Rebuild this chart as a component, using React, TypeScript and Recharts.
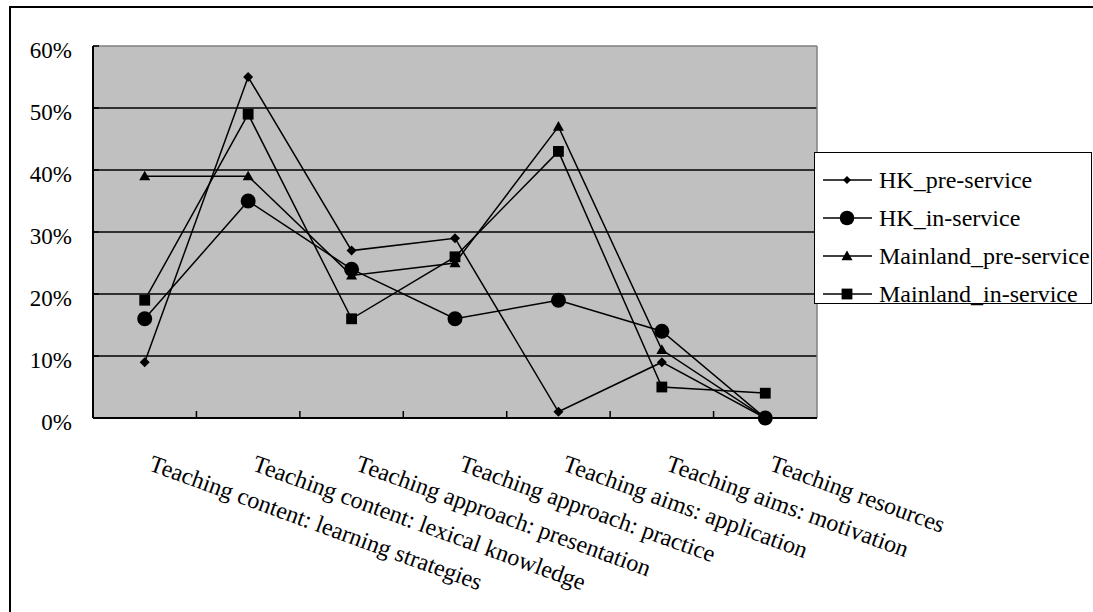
import { CartesianGrid, Legend, Line, LineChart, ReferenceLine, XAxis, YAxis } from "recharts";

const categories = [
  "Teaching content: learning strategies",
  "Teaching content: lexical knowledge",
  "Teaching approach: presentation",
  "Teaching approach: practice",
  "Teaching aims: application",
  "Teaching aims: motivation",
  "Teaching resources",
];

// percent values
const hkPre = [9, 55, 27, 29, 1, 9, 0];
const hkIn = [16, 35, 24, 16, 19, 14, 0];
const mainlandPre = [39, 39, 23, 25, 47, 11, 0];
const mainlandIn = [19, 49, 16, 26, 43, 5, 4];

const yTicks = [0, 10, 20, 30, 40, 50, 60];
const gridValues = [10, 20, 30, 40, 50];

type Shape = "diamond" | "circle" | "triangle" | "square";

const series: { key: string; name: string; values: number[]; shape: Shape }[] = [
  { key: "hkPre", name: "HK_pre-service", values: hkPre, shape: "diamond" },
  { key: "hkIn", name: "HK_in-service", values: hkIn, shape: "circle" },
  { key: "mainlandPre", name: "Mainland_pre-service", values: mainlandPre, shape: "triangle" },
  { key: "mainlandIn", name: "Mainland_in-service", values: mainlandIn, shape: "square" },
];

// categories sit in the middle of their band, tick marks on the band edges
const data = categories.map((c, i) => {
  const row: Record<string, number | string> = { pos: i + 0.5, name: c };
  series.forEach((s) => (row[s.key] = s.values[i]));
  return row;
});
const xTicks = categories.flatMap((_, i) => (i === 0 ? [0.5] : [i, i + 0.5]));

const FONT = '"Liberation Serif", "Times New Roman", serif';

function Marker({ shape, cx, cy, scale = 1 }: { shape: Shape; cx: number; cy: number; scale?: number }) {
  if (shape === "diamond") {
    const s = 5 * scale;
    return <path d={`M${cx},${cy - s}L${cx + s},${cy}L${cx},${cy + s}L${cx - s},${cy}Z`} fill="#000" />;
  }
  if (shape === "circle") return <circle cx={cx} cy={cy} r={7.5 * scale} fill="#000" />;
  if (shape === "triangle") {
    const s = 5.5 * scale;
    return <path d={`M${cx},${cy - s}L${cx + s},${cy + s * 0.75}L${cx - s},${cy + s * 0.75}Z`} fill="#000" />;
  }
  const s = 5.4 * scale;
  return <rect x={cx - s} y={cy - s} width={2 * s} height={2 * s} fill="#000" />;
}

function CategoryTick(props: any) {
  const { x, y, payload } = props;
  const v = payload.value as number;
  if (Number.isInteger(v)) {
    return <line x1={x} x2={x} y1={y} y2={y - 7} stroke="#000" strokeWidth={1.5} />;
  }
  const tx = x + 3;
  const ty = y + 52;
  return (
    <text
      x={tx}
      y={ty}
      transform={`rotate(20 ${tx} ${ty})`}
      fontSize={24}
      fontFamily={FONT}
      style={{ fontFamily: FONT }}
      fill="#000"
    >
      {categories[Math.floor(v)]}
    </text>
  );
}

function PercentTick(props: any) {
  const { x, y, payload } = props;
  return (
    <g>
      <line x1={x + 21} x2={x + 27} y1={y} y2={y} stroke="#000" strokeWidth={1.5} />
      <text
        x={x}
        y={y + 12}
        textAnchor="end"
        fontSize={23}
        fontFamily={FONT}
        style={{ fontFamily: FONT, fontWeight: 400 }}
        fill="#000"
      >
        {payload.value}%
      </text>
    </g>
  );
}

function LegendBox() {
  return (
    <div
      style={{
        border: "1.5px solid #000",
        background: "#fff",
        width: 278,
        height: 152,
        boxSizing: "border-box",
        padding: "8px 0 0 8px",
        fontFamily: FONT,
        fontSize: 24,
        color: "#000",
      }}
    >
      {series.map((s) => (
        <div key={s.key} style={{ display: "flex", alignItems: "center", height: 38 }}>
          <svg width={50} height={20} style={{ flex: "none" }}>
            <line x1={0} x2={49} y1={10} y2={10} stroke="#000" strokeWidth={1.5} />
            <Marker shape={s.shape} cx={24} cy={10} scale={s.shape === "circle" ? 0.97 : s.shape === "diamond" ? 0.8 : 1} />
          </svg>
          <span style={{ marginLeft: 6, whiteSpace: "nowrap" }}>{s.name}</span>
        </div>
      ))}
    </div>
  );
}

export default function App() {
  return (
    <div style={{ position: "absolute", left: 0, top: 0, width: 1093, height: 612, overflow: "hidden", background: "#fff" }}>
      <div
        style={{
          position: "absolute",
          left: 9,
          top: 6,
          width: 1110,
          height: 640,
          border: "2px solid #000",
        }}
      />
      <LineChart
        width={1093}
        height={612}
        data={data}
        margin={{ top: 46, right: 276, bottom: 164, left: 0 }}
        style={{ fontFamily: FONT }}
      >
        <CartesianGrid
          horizontal
          vertical={false}
          horizontalValues={gridValues}
          fill="#c0c0c0"
          fillOpacity={1}
          stroke="#000"
          strokeWidth={1.5}
        />
        <ReferenceLine y={60} stroke="#808080" strokeWidth={1.5} />
        <ReferenceLine x={7} stroke="#808080" strokeWidth={1.5} />
        <XAxis
          type="number"
          dataKey="pos"
          domain={[0, 7]}
          ticks={xTicks}
          interval={0}
          tickLine={false}
          tickSize={0}
          tickMargin={0}
          height={30}
          axisLine={{ stroke: "#000", strokeWidth: 2 }}
          tick={<CategoryTick />}
        />
        <YAxis
          type="number"
          domain={[0, 60]}
          ticks={yTicks}
          interval={0}
          width={93}
          tickLine={false}
          tickSize={0}
          tickMargin={21}
          axisLine={{ stroke: "#000", strokeWidth: 2 }}
          tick={<PercentTick />}
        />
        {series.map((s) => (
          <Line
            key={s.key}
            dataKey={s.key}
            name={s.name}
            stroke="#000"
            strokeWidth={1.5}
            isAnimationActive={false}
            activeDot={false}
            dot={(p: any) => <Marker key={`${s.key}-${p.index}`} shape={s.shape} cx={p.cx} cy={p.cy} />}
          />
        ))}
        <Legend
          layout="vertical"
          align="center"
          verticalAlign="middle"
          wrapperStyle={{ left: 814, top: 152, width: 278 }}
          content={() => <LegendBox />}
        />
      </LineChart>
    </div>
  );
}
